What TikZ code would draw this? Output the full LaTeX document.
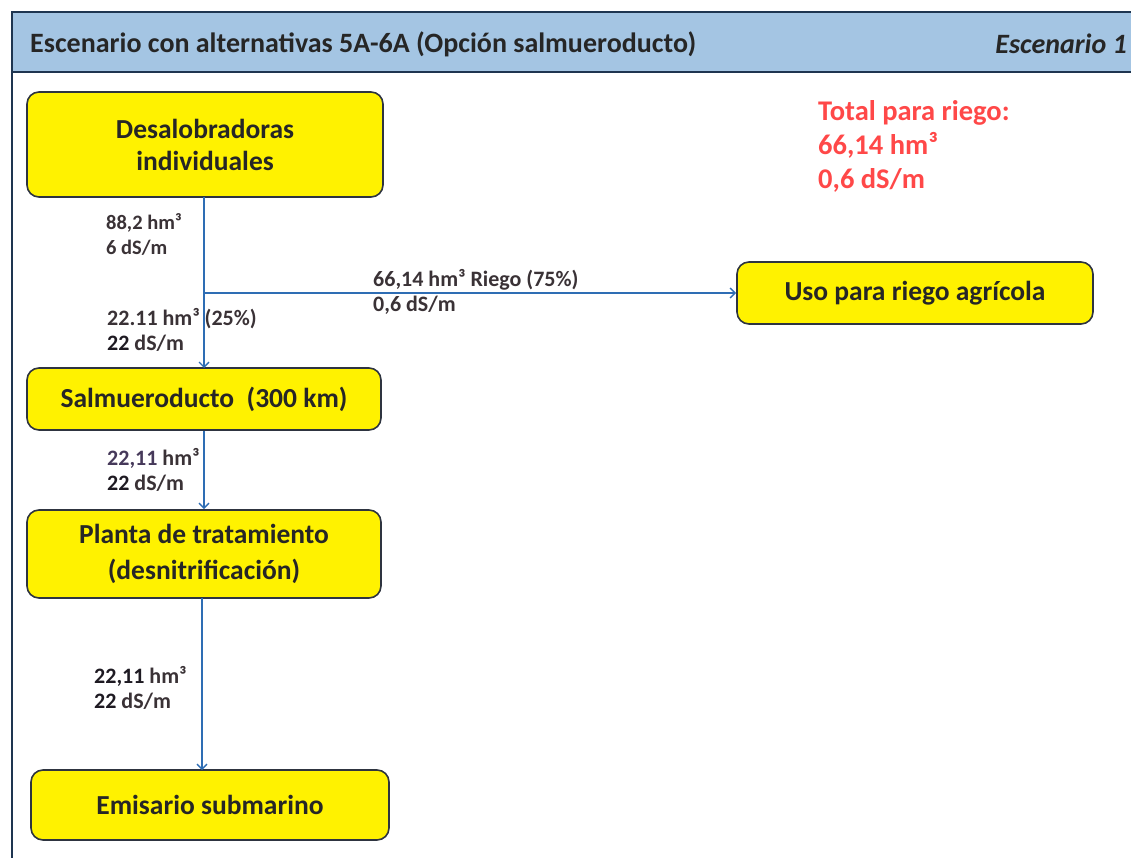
\documentclass[tikz,border=0pt]{standalone}
\usepackage{fontspec}
\setmainfont{Carlito}
\usetikzlibrary{arrows.meta}
\definecolor{hdrfill}{HTML}{A4C5E3}
\definecolor{hdrline}{HTML}{1E3550}
\definecolor{boxline}{HTML}{2E3440}
\definecolor{flowblue}{HTML}{2E6DB4}
\definecolor{redtxt}{HTML}{FF4848}
\definecolor{lbltxt}{HTML}{3A3236}
\definecolor{numdark}{HTML}{1E1A22}
\definecolor{numpurple}{HTML}{46395A}
\tikzset{
  box/.style={draw=boxline, line width=1.6pt, fill=yellow, rounded corners=12pt,
    font=\bfseries\fontsize{27.5}{32}\selectfont, align=center, text=black!85, inner sep=0pt},
  flow/.style={draw=flowblue, line width=1.4pt, -{Straight Barb[length=5pt,width=10pt,line width=1.4pt]}},
  lbl/.style={font=\bfseries\fontsize{22}{25}\selectfont, align=left, anchor=west, inner sep=0pt, text=lbltxt},
  redlbl/.style={font=\bfseries\fontsize{28.5}{34}\selectfont, align=left, anchor=west, inner sep=0pt, text=redtxt},
  hdr/.style={font=\bfseries\fontsize{28}{32}\selectfont, text=black!85, inner sep=0pt}
}
\begin{document}
\begin{tikzpicture}[x=1pt,y=-1pt]
\useasboundingbox (0,0) rectangle (1131,858);
% frame and header
\draw[hdrline, line width=2pt] (12,72) -- (12,860);
\draw[hdrline, line width=2.5pt, fill=hdrfill] (1140,12) -- (12,12) -- (12,72) -- (1140,72);
\node[hdr, anchor=west] (title) at (30,44) {Escenario con alternativas 5A-6A (Opción salmueroducto)};
\node[hdr, anchor=east, font=\bfseries\itshape\fontsize{28}{32}\selectfont] (esc) at (1127,44) {Escenario 1};
% boxes
\node[box, minimum width=356pt, minimum height=105pt] (desal) at (205,144.5) {Desalobradoras\\individuales};
\node[box, minimum width=356pt, minimum height=62pt] (uso) at (915,293) {Uso para riego agrícola};
\node[box, minimum width=354pt, minimum height=62pt] (salm) at (204,399) {Salmueroducto\ \ (300 km)};
\node[box, minimum width=354pt, minimum height=88pt, font=\bfseries\fontsize{27.5}{36}\selectfont] (planta) at (204,554) {Planta de tratamiento\\(desnitrificación)};
\node[box, minimum width=358pt, minimum height=70pt] (emis) at (210,805) {Emisario submarino};
% connectors
\coordinate (split) at (204,293);
\draw[flow] (204,197) -- (204,368);
\draw[flow] (split) -- (uso.west);
\draw[flow] (salm.south) -- (planta.north);
\draw[flow] (202,598) -- (202,770);
% labels
\node[lbl, font=\bfseries\fontsize{20.5}{25}\selectfont] (l1) at (106,234.5) {88,2 hm³\\6 dS/m};
\node[lbl] (l2) at (107,329.5) {22.11 hm³ (25\%)\\{\color{numdark}22} dS/m};
\node[lbl] (l3) at (373,291.5) {66,14 hm³ Riego (75\%)\\0,6 dS/m};
\node[lbl] (l4) at (107,469.5) {{\color{numpurple}22,11} hm³\\{\color{numdark}22} dS/m};
\node[lbl] (l5) at (94,688) {{\color{numdark}22,11} hm³\\{\color{numdark}22} dS/m};
\node[redlbl] (tot) at (818,146) {Total para riego:\\66,14 hm³\\0,6 dS/m};
\end{tikzpicture}
\end{document}
